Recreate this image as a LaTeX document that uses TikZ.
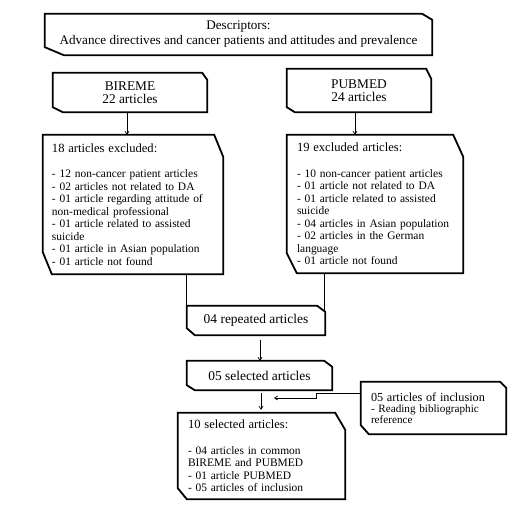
\documentclass[tikz,border=0pt]{standalone}
\usepackage{fontspec}
\setmainfont{Liberation Serif}
\usetikzlibrary{arrows.meta}
\newcommand\chbox[5]{%
  \draw[boxline] (#1.north west) -- ([xshift=-#2]#1.north east) -- ([yshift=-#3]#1.north east)
    -- (#1.south east) -- ([xshift=#4]#1.south west) -- ([yshift=#5]#1.south west) -- cycle;}
\newcommand\hdfont{\fontsize{12.6}{12.5}\selectfont}
\begin{document}
\begin{tikzpicture}[x=1bp,y=-1bp,
  boxline/.style={line width=1.8bp, line join=miter},
  bx/.style={inner sep=0pt, align=center},
  lst/.style={inner xsep=9bp, inner ysep=0pt, align=left, font=\fontsize{11.5}{12.5}\selectfont},
  conn/.style={line width=0.7bp},
  arr/.style={conn, -{Straight Barb[length=3bp,width=4bp]}}]
\fill[white] (0,0) rectangle (528,516);
\useasboundingbox (0,0) rectangle (528,516);

\node[bx, minimum width=387bp, minimum height=41bp, font=\fontsize{13.2}{15}\selectfont] (desc) at (238.5,34.5)
  {Descriptors:\\Advance directives and cancer patients and attitudes and prevalence};
\chbox{desc}{10bp}{6bp}{19bp}{8bp}

\node[bx, minimum width=154bp, minimum height=39bp, font=\fontsize{13.4}{13}\selectfont] (bir) at (130,92.5)
  {BIREME\\22 articles};
\chbox{bir}{5bp}{7bp}{10bp}{5bp}

\node[bx, minimum width=144bp, minimum height=43bp, font=\fontsize{13.4}{13.5}\selectfont] (pub) at (359,90.5)
  {PUBMED\\24 articles};
\chbox{pub}{5bp}{10bp}{8bp}{5bp}

\node[lst, minimum width=180bp, minimum height=139bp, text width=162bp] (exl) at (133,204.5)
  {{\hdfont 18 articles excluded:}\\[13bp]
   - 12 non-cancer patient articles\\
   - 02 articles not related to DA\\
   - 01 article regarding attitude of\\
   non-medical professional\\
   - 01 article related to assisted\\
   suicide\\
   - 01 article in Asian population\\
   - 01 article not found};
\chbox{exl}{9bp}{22bp}{9bp}{22bp}

\node[lst, inner xsep=10bp, minimum width=176bp, minimum height=138bp, text width=156bp] (exr) at (375,204)
  {{\hdfont 19 excluded articles:}\\[13bp]
   - 10 non-cancer patient articles\\
   - 01 article not related to DA\\
   - 01 article related to assisted\\
   suicide\\
   - 04 articles in Asian population\\
   - 02 articles in the German\\
   language\\
   - 01 article not found};
\chbox{exr}{10bp}{22bp}{10bp}{20bp}

\node[bx, minimum width=138bp, minimum height=29bp, font=\fontsize{13.5}{13}\selectfont] (rep) at (256,320.5)
  {04 repeated articles};
\chbox{rep}{8bp}{6bp}{8bp}{7bp}

\node[bx, minimum width=145bp, minimum height=29bp, font=\fontsize{13.5}{13}\selectfont] (sel) at (259.5,375.5)
  {05 selected articles};
\chbox{sel}{8bp}{6bp}{8bp}{5bp}

\node[lst, inner xsep=10bp, minimum width=143bp, minimum height=52bp, text width=125bp,
      font=\fontsize{11.2}{11}\selectfont] (inc) at (433.5,408)
  {{\fontsize{12.3}{13}\selectfont 05 articles of inclusion}\\
   - Reading bibliographic\\
   reference};
\chbox{inc}{6bp}{6bp}{8bp}{9bp}

\node[lst, inner xsep=10bp, minimum width=167bp, minimum height=86bp, text width=147bp] (fin) at (261.5,456)
  {{\hdfont 10 selected articles:}\\[13bp]
   - 04 articles in common\\
   BIREME and PUBMED\\
   - 01 article PUBMED\\
   - 05 articles of inclusion};
\chbox{fin}{10bp}{17bp}{9bp}{11bp}

% connectors
\draw[arr] ([xshift=-3bp]bir.south) -- ([xshift=-3bp]bir.south |- exl.north);
\draw[arr] ([xshift=-4bp]pub.south) -- ([xshift=-4bp]pub.south |- exr.north);
\draw[conn] (rep.north west |- exl.south) -- (rep.north west);
\draw[conn] ([xshift=-1bp]rep.north east |- exr.south) -- ([xshift=-1bp,yshift=-5bp]rep.north east);
\draw[arr] ([xshift=4bp,yshift=-5bp]rep.south) -- ([xshift=4bp]rep.south |- sel.north);
\draw[arr] ([xshift=1.5bp,yshift=-3bp]sel.south) -- ([xshift=1.5bp,yshift=3bp]sel.south |- fin.north);
\coordinate (incend) at (274,398);
\draw[arr] ([yshift=15bp]inc.west) -- ++(-44,0) |- (incend);
\end{tikzpicture}
\end{document}
